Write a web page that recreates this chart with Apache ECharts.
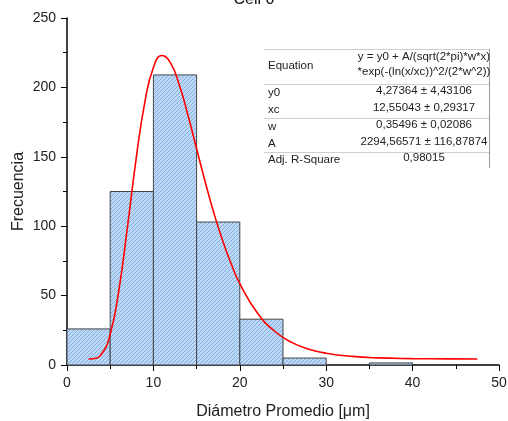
<!DOCTYPE html>
<html>
<head>
<meta charset="utf-8">
<script src="https://cdn.jsdelivr.net/npm/echarts@6/dist/echarts.min.js"></script>
<style>html,body{margin:0;padding:0;background:#fff}#c{width:508px;height:421px}</style>
</head>
<body>
<div id="c"></div>
<script>
// Histogram bins (start of each bin, width 5)
var binStarts = [0, 5, 10, 15, 20, 25, 30, 35, 40];
var binWidth = 5;
var counts = [26, 125, 209, 103, 33, 5, 0, 1.5, 0];
// Fitted curve
var curveX = [2.5, 3, 4, 5, 6, 7, 8, 9, 10, 11, 12, 13, 14, 15, 16, 17, 18, 19, 20, 22, 24, 26, 28, 30, 33, 36, 40, 44, 47.5];
var curveY = [4.3, 4.5, 7.9, 22.2, 53.8, 99.6, 148.5, 189.1, 214.4, 223.0, 217.5, 201.7, 180.0, 155.8, 131.8, 109.5, 89.8, 72.9, 58.7, 37.8, 24.5, 16.3, 11.4, 8.5, 6.2, 5.1, 4.6, 4.4, 4.35];
var tableRows = [
  ["y0", "4,27364 \u00b1 4,43106"],
  ["xc", "12,55043 \u00b1 0,29317"],
  ["w", "0,35496 \u00b1 0,02086"],
  ["A", "2294,56571 \u00b1 116,87874"],
  ["Adj. R-Square", "0,98015"]
];
var eqLines = ["y = y0 + A/(sqrt(2*pi)*w*x)", "*exp(-(ln(x/xc))^2/(2*w^2))"];

var pc = document.createElement('canvas');
pc.width = 4; pc.height = 4;
var g = pc.getContext('2d');
g.fillStyle = '#bcd8f4'; g.fillRect(0,0,4,4);
g.strokeStyle = '#7eaee4'; g.lineWidth = 1;
for (var k=-4;k<=8;k+=4){ g.beginPath(); g.moveTo(k,4); g.lineTo(k+4,0); g.stroke(); }

var barData = binStarts.map(function(s,i){return [s, s+binWidth, counts[i]];});
var chart = echarts.init(document.getElementById('c'));
var F = 'Liberation Sans, Arial, sans-serif';
var TF = '11.5px ' + F;

var gfx = [];
var tx0 = 264, tx1 = 490;
[49.5, 84.5, 118.5, 152.5].forEach(function(y){
  gfx.push({type:'line', shape:{x1:tx0,y1:y,x2:tx1,y2:y}, style:{stroke:'#cfcfcf',lineWidth:1}});
});
gfx.push({type:'line', shape:{x1:489.5,y1:49,x2:489.5,y2:168}, style:{stroke:'#9a9a9a',lineWidth:1}});
gfx.push({type:'text', x:268, y:66, style:{text:'Equation', font:TF, fill:'#222', verticalAlign:'middle'}});
gfx.push({type:'text', x:424, y:57, style:{text:eqLines[0], font:TF, fill:'#222', align:'center', verticalAlign:'middle'}});
gfx.push({type:'text', x:424, y:72, style:{text:eqLines[1], font:TF, fill:'#222', align:'center', verticalAlign:'middle'}});
var rowY = [93, 110, 127, 144, 160];
tableRows.forEach(function(r,i){
  gfx.push({type:'text', x:268, y:rowY[i], style:{text:r[0], font:TF, fill:'#222', verticalAlign:'middle'}});
  gfx.push({type:'text', x:424, y:rowY[i]-2, style:{text:r[1], font:TF, fill:'#222', align:'center', verticalAlign:'middle'}});
});

chart.setOption({
  animation:false,
  title:{text:'Cell 0', left:'center', top:-13, textStyle:{fontFamily:F, fontSize:16, fontWeight:'normal', color:'#111'}},
  grid:{left:67, right:9, top:18, bottom:56, outerBoundsMode:'none', containLabel:false},
  xAxis:{type:'value', min:0, max:50, interval:10,
    name:'Di\u00e1metro Promedio [\u03bcm]', nameLocation:'middle', nameGap:39,
    nameTextStyle:{fontFamily:F, fontSize:16, color:'#222'},
    axisLine:{lineStyle:{color:'#000', width:1.5}},
    axisTick:{inside:false, length:6, lineStyle:{color:'#000'}},
    minorTick:{show:true, splitNumber:2, length:4, lineStyle:{color:'#000'}},
    axisLabel:{fontFamily:F, fontSize:14, color:'#222', margin:11},
    splitLine:{show:false}},
  yAxis:{type:'value', min:0, max:250, interval:50,
    name:'Frecuencia', nameLocation:'middle', nameGap:40, nameMoveOverlap:false,
    nameTextStyle:{fontFamily:F, fontSize:16, color:'#222'},
    axisLine:{show:true, lineStyle:{color:'#000', width:1.5}},
    axisTick:{show:true, inside:false, length:6, lineStyle:{color:'#000'}},
    minorTick:{show:true, splitNumber:2, length:4, lineStyle:{color:'#000'}},
    axisLabel:{fontFamily:F, fontSize:14, color:'#222', margin:11},
    splitLine:{show:false}},
  graphic: gfx,
  series:[
    {type:'custom', data:barData, z:2,
      renderItem:function(params, api){
        var p0 = api.coord([api.value(0), api.value(2)]);
        var p1 = api.coord([api.value(1), 0]);
        return {type:'rect', shape:{x:p0[0], y:p0[1], width:p1[0]-p0[0], height:p1[1]-p0[1]},
          style:{fill:{image:pc, repeat:'repeat'}, stroke:'#454545', lineWidth:1}};
      }},
    {type:'line', data:curveX.map(function(x,i){return [x, curveY[i]];}), smooth:true, showSymbol:false, z:3,
      lineStyle:{color:'#ff0000', width:1.6}}
  ]
});
</script>
</body>
</html>
